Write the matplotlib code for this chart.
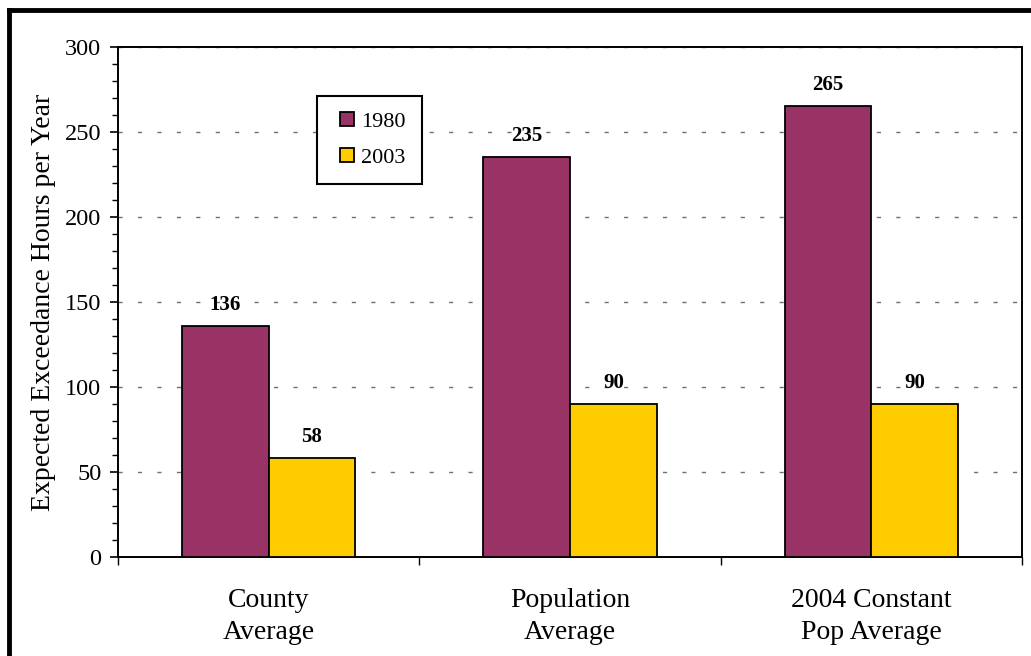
import matplotlib
matplotlib.use("Agg")
import matplotlib.pyplot as plt
import numpy as np
from matplotlib.lines import Line2D
from matplotlib.ticker import MultipleLocator, FixedLocator

categories = ["County\nAverage", "Population\nAverage", "2004 Constant\nPop Average"]
series_names = ["1980", "2003"]
values_1980 = [136, 235, 265]
values_2003 = [58, 90, 90]
colors = ["#993366", "#FFCC00"]

plt.rcParams['font.family'] = ['Liberation Serif', 'DejaVu Serif']

W, H = 1031, 656
fig = plt.figure(figsize=(W / 100, H / 100), dpi=100)
ax = fig.add_axes([118 / W, 1 - 557 / H, (1022 - 118) / W, (557 - 47) / H])

x = np.arange(len(categories))
bw = 0.288
b1 = ax.bar(x - bw / 2, values_1980, bw, color=colors[0], edgecolor="black", linewidth=1.3, label=series_names[0], zorder=3)
b2 = ax.bar(x + bw / 2, values_2003, bw, color=colors[1], edgecolor="black", linewidth=1.3, label=series_names[1], zorder=3)

for bars, vals in ((b1, values_1980), (b2, values_2003)):
    for r, v in zip(bars, vals):
        ax.text(r.get_x() + r.get_width() / 2, v + 6.5, str(v), ha="center", va="bottom",
                fontsize=15, fontweight="bold", zorder=4)

ax.set_xlim(-0.5, 2.5)
ax.set_ylim(0, 300)
ax.yaxis.set_major_locator(MultipleLocator(50))
ax.yaxis.set_minor_locator(MultipleLocator(10))
ax.grid(axis="y", which="major", linestyle=(0, (3, 11)), color="#707070", linewidth=1.0, zorder=0)

ax.set_xticks(x)
ax.set_xticklabels(categories, fontsize=20, linespacing=1.4)
ax.tick_params(axis="x", which="major", length=0, pad=22)
ax.xaxis.set_minor_locator(FixedLocator([-0.5, 0.5, 1.5, 2.5]))
ax.tick_params(axis="x", which="minor", length=6, width=1, direction="out")
ax.tick_params(axis="y", which="major", length=6, width=1.2, direction="out", labelsize=17.5, pad=6)
ax.tick_params(axis="y", which="minor", length=4, width=1, direction="out")

for s in ax.spines.values():
    s.set_linewidth(1.4)
    s.set_color("black")

ax.set_ylabel("Expected Exceedance Hours per Year", fontsize=20, labelpad=6)

handles = [Line2D([], [], linestyle="none", marker="s", markersize=10.5, markerfacecolor=c,
                  markeredgecolor="black", markeredgewidth=1.3) for c in colors]
leg = ax.legend(handles, series_names, loc="upper left", bbox_to_anchor=((317 - 118) / (1022 - 118), (557 - 96) / (557 - 47)),
                fontsize=16, frameon=True, fancybox=False, edgecolor="black", framealpha=1,
                handlelength=1.3, handletextpad=0.0, labelspacing=0.7,
                borderpad=0.7, borderaxespad=0)
leg.get_frame().set_linewidth(1.5)

# outer border (left and top visible)
fig.add_artist(Line2D([9 / W, 9 / W], [0, 1 - 10 / H], transform=fig.transFigure, color="black", linewidth=3.5))
fig.add_artist(Line2D([9 / W, 1.0], [1 - 10 / H, 1 - 10 / H], transform=fig.transFigure, color="black", linewidth=3.5))

fig.savefig("out.png", dpi=100)
